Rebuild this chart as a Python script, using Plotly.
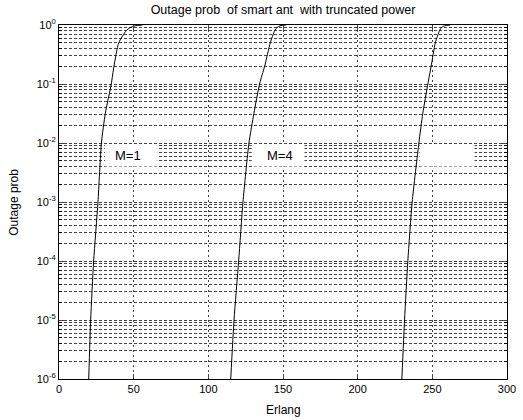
import math
import plotly.graph_objects as go

# Outage probability levels (shared by all three curves)
outage = [1e-6, 1e-5, 1e-4, 1e-3, 1e-2, 3.16e-2, 1e-1, 0.2, 0.5, 0.8, 0.9, 0.97, 1.0]

# Erlang values at those outage levels
erlang_m1 = [19.9, 21.2, 23.2, 26.1, 28.4, 31.0, 35.0, 36.8, 40.0, 45.0, 47.5, 51.0, 56.0]
erlang_m4 = [115.0, 117.2, 120.3, 123.2, 127.2, 130.5, 134.3, 137.7, 141.5, 144.4, 146.0, 148.0, 152.0]
erlang_m8 = [229.6, 231.4, 233.6, 236.5, 241.0, 243.6, 247.0, 249.2, 252.0, 254.8, 256.0, 258.2, 262.0]

x_ticks = [0, 50, 100, 150, 200, 250, 300]
y_ticks = [1e-6, 1e-5, 1e-4, 1e-3, 1e-2, 1e-1, 1e0]
y_ticktext = ["10<sup>-6</sup>", "10<sup>-5</sup>", "10<sup>-4</sup>", "10<sup>-3</sup>",
              "10<sup>-2</sup>", "10<sup>-1</sup>", "10<sup>0</sup>"]

labels = ["M=1", "M=4"]
label_x = [46.3, 147.7]
label_y = [6.1e-3, 6.1e-3]

# white label boxes (x0, x1) in Erlang, shared vertical extent in outage prob
box_x0 = [30.7, 129.0, 241.5]
box_x1 = [65.5, 164.4, 278.3]
box_y0 = 4.0e-3
box_y1 = 9.3e-3

FONT = "Liberation Sans, Arial, sans-serif"

fig = go.Figure()
for xs in (erlang_m1, erlang_m4, erlang_m8):
    fig.add_trace(go.Scatter(x=xs, y=outage, mode="lines",
                             line=dict(color="black", width=1, shape="spline", smoothing=0.6),
                             showlegend=False, hoverinfo="skip"))

for x0, x1 in zip(box_x0, box_x1):
    fig.add_shape(type="rect", xref="x", yref="y", x0=x0, x1=x1, y0=box_y0, y1=box_y1,
                  fillcolor="white", line=dict(width=0), layer="between")

for t, lx, ly in zip(labels, label_x, label_y):
    fig.add_annotation(x=lx, y=math.log10(ly), xref="x", yref="y",
                       text=t, showarrow=False,
                       font=dict(family=FONT, size=13, color="black"))

grid_dash = "3px,2px"
fig.update_xaxes(range=[0, 300], tickvals=x_ticks, ticks="inside", ticklen=5,
                 showline=True, linecolor="black", linewidth=1, mirror="ticks",
                 showgrid=True, gridcolor="#444", griddash="2px,3px", gridwidth=1,
                 zeroline=False, automargin=False,
                 tickfont=dict(family=FONT, size=11, color="black"))
fig.update_yaxes(type="log", range=[-6, 0], tickvals=y_ticks, ticktext=y_ticktext,
                 ticks="inside", ticklen=5,
                 showline=True, linecolor="black", linewidth=1, mirror="ticks",
                 showgrid=True, gridcolor="#444", griddash=grid_dash, gridwidth=1,
                 minor=dict(dtick="D1", showgrid=True, gridcolor="#444", griddash=grid_dash,
                            gridwidth=1, ticks="inside", ticklen=3, tickcolor="black"),
                 zeroline=False, automargin=False,
                 tickfont=dict(family=FONT, size=11, color="black"))

fig.add_annotation(text="Erlang", xref="paper", yref="paper", x=0.5, y=-0.088,
                   yanchor="middle", showarrow=False,
                   font=dict(family=FONT, size=12, color="black"))
fig.add_annotation(text="Outage prob", xref="paper", yref="paper", x=-0.101, y=0.5,
                   xanchor="center", yanchor="middle", textangle=-90, showarrow=False,
                   font=dict(family=FONT, size=12, color="black"))

fig.update_layout(
    width=523, height=420,
    margin=dict(l=59, r=16, t=25, b=41),
    paper_bgcolor="white", plot_bgcolor="white",
    title=dict(text="Outage prob  of smart ant  with truncated power",
               font=dict(family=FONT, size=12.5, color="black"),
               x=0.5, xref="paper", xanchor="center", y=0.976, yanchor="middle"),
)

fig.write_html("out.html", config={"displayModeBar": False},
               post_script="document.body.style.margin='0';")
